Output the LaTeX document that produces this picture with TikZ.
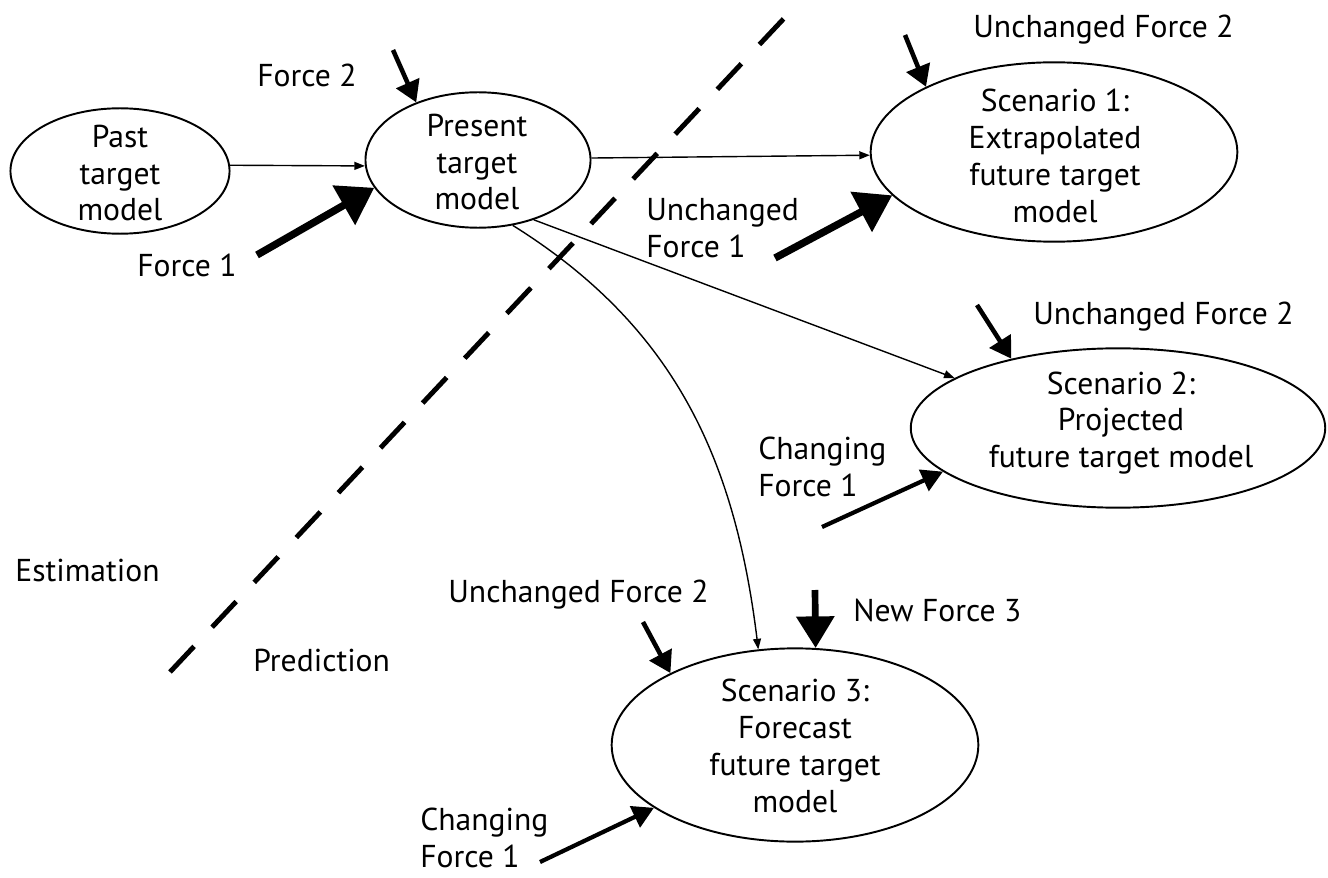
\documentclass[tikz,border=0pt]{standalone}
\usepackage{fontspec}
\setmainfont{PT Sans}
\usetikzlibrary{shapes.geometric,arrows.meta}
\tikzset{
  ell/.style={ellipse, draw, line width=1.1pt, inner sep=0pt},
  txt/.style={align=center, font=\fontsize{18}{21}\selectfont, inner sep=0pt},
  lbl/.style={align=left, anchor=west, font=\fontsize{18}{21}\selectfont, inner sep=0pt},
  conn/.style={line width=0.8pt, -{Triangle[length=6pt,width=4.5pt]}},
  forcemed/.style={line width=2.6pt, -{Triangle[length=12pt,width=14pt]}},
  forcebig/.style={line width=4.2pt, -{Triangle[length=20pt,width=25pt]}},
  forcechg/.style={line width=2.4pt, -{Triangle[length=12pt,width=13pt]}},
  forcenew/.style={line width=3.8pt, -{Triangle[length=18pt,width=21pt]}},
  divider/.style={line width=2.8pt, dash pattern=on 20pt off 15pt}
}
\begin{document}
\begin{tikzpicture}[x=0.02cm,y=-0.02cm]
\useasboundingbox[fill=white] (0,0) rectangle (1328,878);
% ellipses
\node[ell, minimum width=124.7pt, minimum height=71.4pt] (past) at (120,171) {};
\node[ell, minimum width=128.1pt, minimum height=77.1pt] (pres) at (478,160) {};
\node[ell, minimum width=208.7pt, minimum height=102.1pt] (s1) at (1054,152) {};
\node[ell, minimum width=235.9pt, minimum height=90.7pt] (s2) at (1118,428) {};
\node[ell, minimum width=208.7pt, minimum height=110pt] (s3) at (795,745) {};
% texts inside
\node[txt] (pastt) at (120,173) {Past\\target\\model};
\node[txt] (prest) at (477,162) {Present\\target\\model};
\node[txt] (s1t) at (1055,156) {Scenario 1:\\Extrapolated\\future target\\model};
\node[txt] (s2t) at (1121,423) {Scenario 2:\\Projected\\future target model};
\node[txt] (s3t) at (795,746) {Scenario 3:\\Forecast\\future target\\model};
% labels
\node[lbl] (f2) at (257,75) {Force 2};
\node[lbl] (f1) at (137,265) {Force 1};
\node[lbl] (u2a) at (973,30) {Unchanged Force 2};
\node[lbl] (u1a) at (646,228) {Unchanged\\Force 1};
\node[lbl] (u2b) at (1033,317) {Unchanged Force 2};
\node[lbl] (c1b) at (758,467) {Changing\\Force 1};
\node[lbl] (u2c) at (448,595) {Unchanged Force 2};
\node[lbl] (nf3) at (853,610) {New Force 3};
\node[lbl] (c1c) at (420,838) {Changing\\Force 1};
\node[lbl] (est) at (15,570) {Estimation};
\node[lbl] (pred) at (253,660) {Prediction};
% free ends
\coordinate (f2s) at (393,50);
\coordinate (f1s) at (257,255);
\coordinate (u2as) at (905,35);
\coordinate (u1as) at (775,258);
\coordinate (u2bs) at (977,305);
\coordinate (c1bs) at (822,527);
\coordinate (u2cs) at (643,622);
\coordinate (nf3s) at (815,590);
\coordinate (c1cs) at (540,862);
\coordinate (dA) at (170,672);
\coordinate (dB) at (790,12);
% dashed divider
\draw[divider] (dA) -- (dB);
% connectors
\draw[conn] (past.3) -- (pres.183);
\draw[conn] (pres.1) -- (s1.181);
\draw[conn] (pres.-47.5) -- (s2.163);
\draw[conn] (pres.-62) to[out=-32,in=97] (s3.111);
% forces
\draw[forcemed] (f2s) -- (pres.137);
\draw[forcebig] (f1s) -- (pres.195);
\draw[forcemed] (u2as) -- (s1.153);
\draw[forcebig] (u1as) -- (s1.195);
\draw[forcemed] (u2bs) -- (s2.147);
\draw[forcechg] (c1bs) -- (s2.194);
\draw[forcemed] (u2cs) -- (s3.150);
\draw[forcenew] (nf3s) -- (s3.78);
\draw[forcechg] (c1cs) -- (s3.204);
\end{tikzpicture}
\end{document}
